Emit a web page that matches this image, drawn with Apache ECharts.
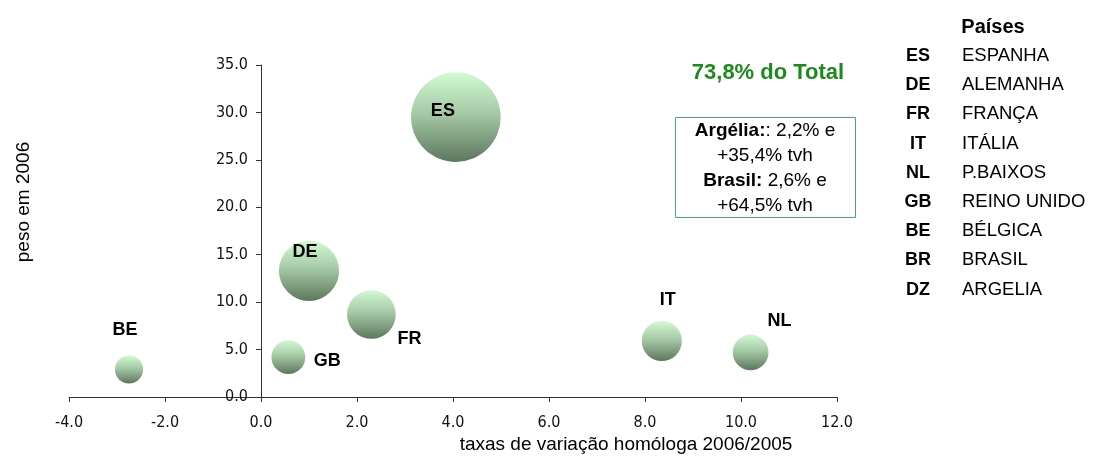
<!DOCTYPE html>
<html>
<head>
<meta charset="utf-8">
<script src="https://cdn.jsdelivr.net/npm/echarts@6/dist/echarts.min.js"></script>
<style>
html,body{margin:0;padding:0;background:#fff;}
#chart{width:1095px;height:457px;}
</style>
</head>
<body>
<div id="chart"></div>
<script>
// ---- data ----
const bubbleCodes = ['ES', 'DE', 'FR', 'IT', 'NL', 'GB', 'BE'];
const growth = [4.06, 1.0, 2.3, 8.35, 10.2, 0.57, -2.75];   // taxas de variação homóloga 2006/2005
const weight = [29.5, 13.3, 8.7, 5.9, 4.7, 4.2, 2.9];       // peso em 2006 (also bubble size)
const xTicks = { min: -4, max: 12, step: 2 };
const yTicks = { min: 0, max: 35, step: 5 };
const legendCodes = ['ES', 'DE', 'FR', 'IT', 'NL', 'GB', 'BE', 'BR', 'DZ'];
const legendNames = ['ESPANHA', 'ALEMANHA', 'FRANÇA', 'ITÁLIA', 'P.BAIXOS', 'REINO UNIDO', 'BÉLGICA', 'BRASIL', 'ARGELIA'];
const totalText = '73,8% do Total';
const noteLines = [
  ['Argélia:', ': 2,2% e'],
  ['', '+35,4% tvh'],
  ['Brasil:', ' 2,6% e'],
  ['', '+64,5% tvh']
];

// ---- styles / layout ----
const SANS = '"Liberation Sans", Arial, sans-serif';
const NARROW = '"Liberation Sans Narrow", "Arial Narrow", "DejaVu Sans Condensed", sans-serif';
const BUBBLE_SCALE = 16.5; // diameter = scale * sqrt(size)
const GRID = { left: 69, right: 258, top: 65, bottom: 60 };
const W = 1095, H = 457;
const labelOffsets = {
  ES: [-13, -6], DE: [-4, -19], FR: [38, 25], GB: [39, 4],
  IT: [6, -41], NL: [29, -31], BE: [-4, -39]
};

const chart = echarts.init(document.getElementById('chart'), null, { renderer: 'canvas' });

// y axis crosses the x axis at 0
const plotW = W - GRID.left - GRID.right;
const yAxisOffset = -plotW * (0 - xTicks.min) / (xTicks.max - xTicks.min);

const bubbleGradient = new echarts.graphic.LinearGradient(0, 0, 0, 1, [
  { offset: 0, color: '#d2fad2' },
  { offset: 0.45, color: '#a6caa6' },
  { offset: 1, color: '#5d775d' }
]);

const seriesData = bubbleCodes.map((c, i) => ({
  name: c,
  value: [growth[i], weight[i], weight[i]],
  label: { offset: labelOffsets[c] }
}));

const graphics = [];
// axis names
graphics.push({
  type: 'text', x: 626, y: 445,
  style: { text: 'taxas de variação homóloga 2006/2005', font: '19px ' + SANS, fill: '#000', align: 'center', verticalAlign: 'middle' }
});
graphics.push({
  type: 'text', x: 24, y: 202, rotation: Math.PI / 2,
  style: { text: 'peso em 2006', font: '19px ' + SANS, fill: '#000', align: 'center', verticalAlign: 'middle' }
});
// total text
graphics.push({
  type: 'text', x: 768, y: 73,
  style: { text: totalText, font: 'bold 22px ' + SANS, fill: '#1a8c1a', align: 'center', verticalAlign: 'middle' }
});
// note box
graphics.push({
  type: 'rect', shape: { x: 675.5, y: 117.5, width: 180, height: 100 },
  style: { fill: '#fff', stroke: '#4aa872', lineWidth: 1 }
});
noteLines.forEach((ln, i) => {
  graphics.push({
    type: 'text', x: 765, y: 131 + i * 25,
    style: {
      text: (ln[0] ? '{b|' + ln[0] + '}' : '') + '{n|' + ln[1] + '}',
      align: 'center', verticalAlign: 'middle',
      rich: {
        b: { font: 'bold 19px ' + SANS, fill: '#000' },
        n: { font: '19px ' + SANS, fill: '#000' }
      }
    }
  });
});
// legend table
graphics.push({
  type: 'text', x: 993, y: 27,
  style: { text: 'Países', font: 'bold 20px ' + SANS, fill: '#000', align: 'center', verticalAlign: 'middle' }
});
legendCodes.forEach((c, i) => {
  const y = 56 + i * 29.2;
  graphics.push({
    type: 'text', x: 918, y: y,
    style: { text: c, font: 'bold 18px ' + SANS, fill: '#000', align: 'center', verticalAlign: 'middle' }
  });
  graphics.push({
    type: 'text', x: 962, y: y,
    style: { text: legendNames[i], font: '18.5px ' + SANS, fill: '#000', align: 'left', verticalAlign: 'middle' }
  });
});

const option = {
  backgroundColor: '#fff',
  animation: false,
  grid: { left: GRID.left, right: GRID.right, top: GRID.top, bottom: GRID.bottom, containLabel: false },
  xAxis: {
    type: 'value', min: xTicks.min, max: xTicks.max, interval: xTicks.step,
    axisLine: { show: true, onZero: true, lineStyle: { color: '#333', width: 1 } },
    axisTick: { show: true, inside: false, length: 5, lineStyle: { color: '#333' } },
    splitLine: { show: false },
    axisLabel: { formatter: v => v.toFixed(1), margin: 18, color: '#111', fontFamily: NARROW, fontSize: 16 }
  },
  yAxis: {
    type: 'value', min: yTicks.min, max: yTicks.max, interval: yTicks.step,
    position: 'left', offset: yAxisOffset,
    axisLine: { show: true, onZero: false, lineStyle: { color: '#333', width: 1 } },
    axisTick: { show: true, inside: false, length: 5, lineStyle: { color: '#333' } },
    splitLine: { show: false },
    axisLabel: { formatter: v => v.toFixed(1), margin: 13, color: '#111', fontFamily: NARROW, fontSize: 16 }
  },
  series: [{
    type: 'scatter',
    data: seriesData,
    symbol: 'circle',
    symbolSize: v => BUBBLE_SCALE * Math.sqrt(v[2]),
    itemStyle: { color: bubbleGradient, opacity: 1 },
    label: {
      show: true, position: 'inside',
      formatter: p => p.name,
      color: '#000', fontFamily: SANS, fontWeight: 'bold', fontSize: 18
    },
    z: 3
  }],
  graphic: graphics
};
chart.setOption(option);
</script>
</body>
</html>
